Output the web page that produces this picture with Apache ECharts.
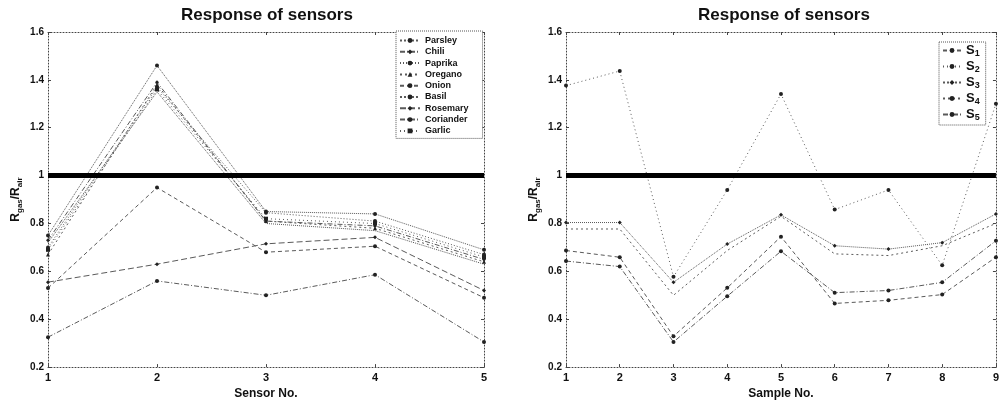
<!DOCTYPE html>
<html>
<head>
<meta charset="utf-8">
<script src="https://cdn.jsdelivr.net/npm/echarts@6/dist/echarts.min.js"></script>
<style>html,body{margin:0;padding:0;background:#fff;}#c{width:1002px;height:405px;}</style>
</head>
<body>
<div id="c"></div>
<script>
// ---- data: left plot (response per sensor, one line per spice) ----
const sensors = [1, 2, 3, 4, 5];
const foods = ['Parsley', 'Chili', 'Paprika', 'Oregano', 'Onion', 'Basil', 'Rosemary', 'Coriander', 'Garlic'];
const parsley   = [0.75, 1.46, 0.85, 0.84, 0.69];
const chili     = [0.73, 1.39, 0.81, 0.79, 0.65];
const paprika   = [0.70, 1.37, 0.845, 0.81, 0.67];
const oregano   = [0.67, 1.38, 0.81, 0.78, 0.64];
const onion     = [0.53, 0.95, 0.68, 0.705, 0.49];
const basil     = [0.72, 1.35, 0.80, 0.77, 0.63];
const rosemary  = [0.555, 0.63, 0.715, 0.742, 0.52];
const coriander = [0.325, 0.56, 0.50, 0.586, 0.305];
const garlic    = [0.69, 1.36, 0.82, 0.80, 0.66];

// ---- data: right plot (response per sample, one line per sensor) ----
const samples = [1, 2, 3, 4, 5, 6, 7, 8, 9];
const sensorNames = ['S1', 'S2', 'S3', 'S4', 'S5'];
const s1 = [0.687, 0.659, 0.329, 0.531, 0.745, 0.466, 0.479, 0.503, 0.659];
const s2 = [1.376, 1.437, 0.577, 0.94, 1.341, 0.858, 0.94, 0.625, 1.30];
const s3 = [0.804, 0.804, 0.554, 0.714, 0.836, 0.707, 0.693, 0.72, 0.84];
const s4 = [0.777, 0.777, 0.50, 0.687, 0.83, 0.673, 0.666, 0.707, 0.80];
const s5 = [0.643, 0.62, 0.305, 0.496, 0.684, 0.511, 0.52, 0.554, 0.728];

// reference level and axis ticks
const refLevel = 1;
const yTicks = [0.2, 0.4, 0.6, 0.8, 1.0, 1.2, 1.4, 1.6];

const leftValues = [parsley, chili, paprika, oregano, onion, basil, rosemary, coriander, garlic];
const rightValues = [s1, s2, s3, s4, s5];

const FONT = "'Liberation Sans', Arial, sans-serif";
const INK = '#222';
const LINE = '#5a5a5a';
const lineTypes = ['dotted', [5, 2, 1, 2], [1, 2], [2, 3], [4, 3], 'dotted', [6, 3], [5, 2, 1, 2], [1, 3]];
const symbols = ['circle', 'diamond', 'circle', 'triangle', 'circle', 'none', 'diamond', 'circle', 'rect'];
const rSymbols = ['circle', 'circle', 'diamond', 'none', 'circle'];
const rTypes = [[4, 3], [1, 3], 'dotted', [2, 3], [5, 2, 1, 2]];

function yAxisBase(gridIndex, pos, withLabels) {
  return {
    type: 'value', gridIndex: gridIndex, position: pos,
    min: yTicks[0], max: yTicks[yTicks.length - 1], interval: 0.2,
    axisLine: { show: true, onZero: false, lineStyle: { color: '#444', type: [1, 2], width: 1 } },
    axisTick: { show: true, inside: true, length: 3, lineStyle: { color: '#444' } },
    axisLabel: withLabels ? {
      show: true, margin: 4, color: '#111', fontFamily: FONT, fontWeight: 'bold', fontSize: 10,
      formatter: v => String(+v.toFixed(1))
    } : { show: false },
    splitLine: { show: false }
  };
}
function xAxisBase(gridIndex, pos, maxV, withLabels, name) {
  return {
    type: 'value', gridIndex: gridIndex, position: pos,
    min: 1, max: maxV, interval: 1,
    name: withLabels ? name : '', nameLocation: 'middle', nameGap: 20,
    nameTextStyle: { fontFamily: FONT, fontWeight: 'bold', fontSize: 12, color: '#111' },
    axisLine: { show: true, onZero: false, lineStyle: { color: '#444', type: [1, 2], width: 1 } },
    axisTick: { show: true, inside: true, length: 3, lineStyle: { color: '#444' } },
    axisLabel: withLabels ? { show: true, margin: 5, color: '#111', fontFamily: FONT, fontWeight: 'bold', fontSize: 11 } : { show: false },
    splitLine: { show: false }
  };
}
const yName = '{r|R}{s|gas}{r|/R}{s|air}';
const yNameStyle = {
  rich: {
    r: { fontFamily: FONT, fontWeight: 'bold', fontSize: 12, color: '#111', lineHeight: 16, verticalAlign: 'middle' },
    s: { fontFamily: FONT, fontWeight: 'bold', fontSize: 8, color: '#111', lineHeight: 8, verticalAlign: 'bottom' }
  }
};

const series = [];
leftValues.forEach((vals, i) => {
  series.push({
    name: foods[i], type: 'line', xAxisIndex: 0, yAxisIndex: 0,
    data: sensors.map((x, k) => [x, vals[k]]),
    symbol: symbols[i], symbolSize: 4, showSymbol: symbols[i] !== 'none',
    lineStyle: { color: LINE, width: 1, type: lineTypes[i] },
    itemStyle: { color: INK },
    emphasis: { disabled: true }, animation: false, z: 3
  });
});
rightValues.forEach((vals, i) => {
  series.push({
    name: sensorNames[i], type: 'line', xAxisIndex: 2, yAxisIndex: 2,
    data: samples.map((x, k) => [x, vals[k]]),
    symbol: rSymbols[i], symbolSize: 4, showSymbol: rSymbols[i] !== 'none',
    lineStyle: { color: LINE, width: 1, type: rTypes[i] },
    itemStyle: { color: INK },
    emphasis: { disabled: true }, animation: false, z: 3
  });
});
// thick reference line at R_gas/R_air = 1 on both plots
[[0, 0, sensors], [2, 2, samples]].forEach(([xi, yi, xs]) => {
  series.push({
    type: 'line', xAxisIndex: xi, yAxisIndex: yi,
    data: [[xs[0], refLevel], [xs[xs.length - 1], refLevel]],
    symbol: 'none', lineStyle: { color: '#000', width: 5 },
    emphasis: { disabled: true }, animation: false, z: 5, silent: true
  });
});

const chart = echarts.init(document.getElementById('c'), null, { renderer: 'canvas' });
chart.setOption({
  backgroundColor: '#fff',
  animation: false,
  title: [
    { text: 'Response of sensors', left: 176, top: 2, textStyle: { fontFamily: FONT, fontWeight: 'bold', fontSize: 17, color: '#111' } },
    { text: 'Response of sensors', left: 693, top: 2, textStyle: { fontFamily: FONT, fontWeight: 'bold', fontSize: 17, color: '#111' } }
  ],
  grid: [
    { left: 48, right: 518, top: 32, bottom: 36 },
    { left: 566, right: 1, top: 32, bottom: 37 }
  ],
  xAxis: [
    xAxisBase(0, 'bottom', 5, true, 'Sensor No.'),
    xAxisBase(0, 'top', 5, false, ''),
    xAxisBase(1, 'bottom', 9, true, 'Sample No.'),
    xAxisBase(1, 'top', 9, false, '')
  ],
  yAxis: [
    Object.assign(yAxisBase(0, 'left', true), { name: yName, nameLocation: 'middle', nameGap: 24, nameTextStyle: yNameStyle }),
    yAxisBase(0, 'right', false),
    Object.assign(yAxisBase(1, 'left', true), { name: yName, nameLocation: 'middle', nameGap: 24, nameTextStyle: yNameStyle }),
    yAxisBase(1, 'right', false)
  ],
  legend: [
    {
      data: foods, orient: 'vertical', left: 396, top: 31, itemGap: 2.3, itemWidth: 20, itemHeight: 6,
      padding: [5, 14, 3, 3], borderColor: '#555', borderWidth: 1, borderType: 'dotted', backgroundColor: '#fff',
      textStyle: { fontFamily: FONT, fontWeight: 'bold', fontSize: 9, color: '#111' },
      selectedMode: false
    },
    {
      data: sensorNames, orient: 'vertical', left: 939, top: 42, itemGap: 2, itemWidth: 18, itemHeight: 6,
      padding: [2, 6, 3, 3], borderColor: '#555', borderWidth: 1, borderType: 'dotted', backgroundColor: '#fff',
      formatter: n => '{a|S}{b|' + n.slice(1) + '}',
      textStyle: {
        color: '#111',
        rich: {
          a: { fontFamily: FONT, fontWeight: 'bold', fontSize: 13, lineHeight: 15, verticalAlign: 'middle' },
          b: { fontFamily: FONT, fontWeight: 'bold', fontSize: 9, lineHeight: 9, verticalAlign: 'bottom' }
        }
      },
      selectedMode: false
    }
  ],
  series: series
});
</script>
</body>
</html>
